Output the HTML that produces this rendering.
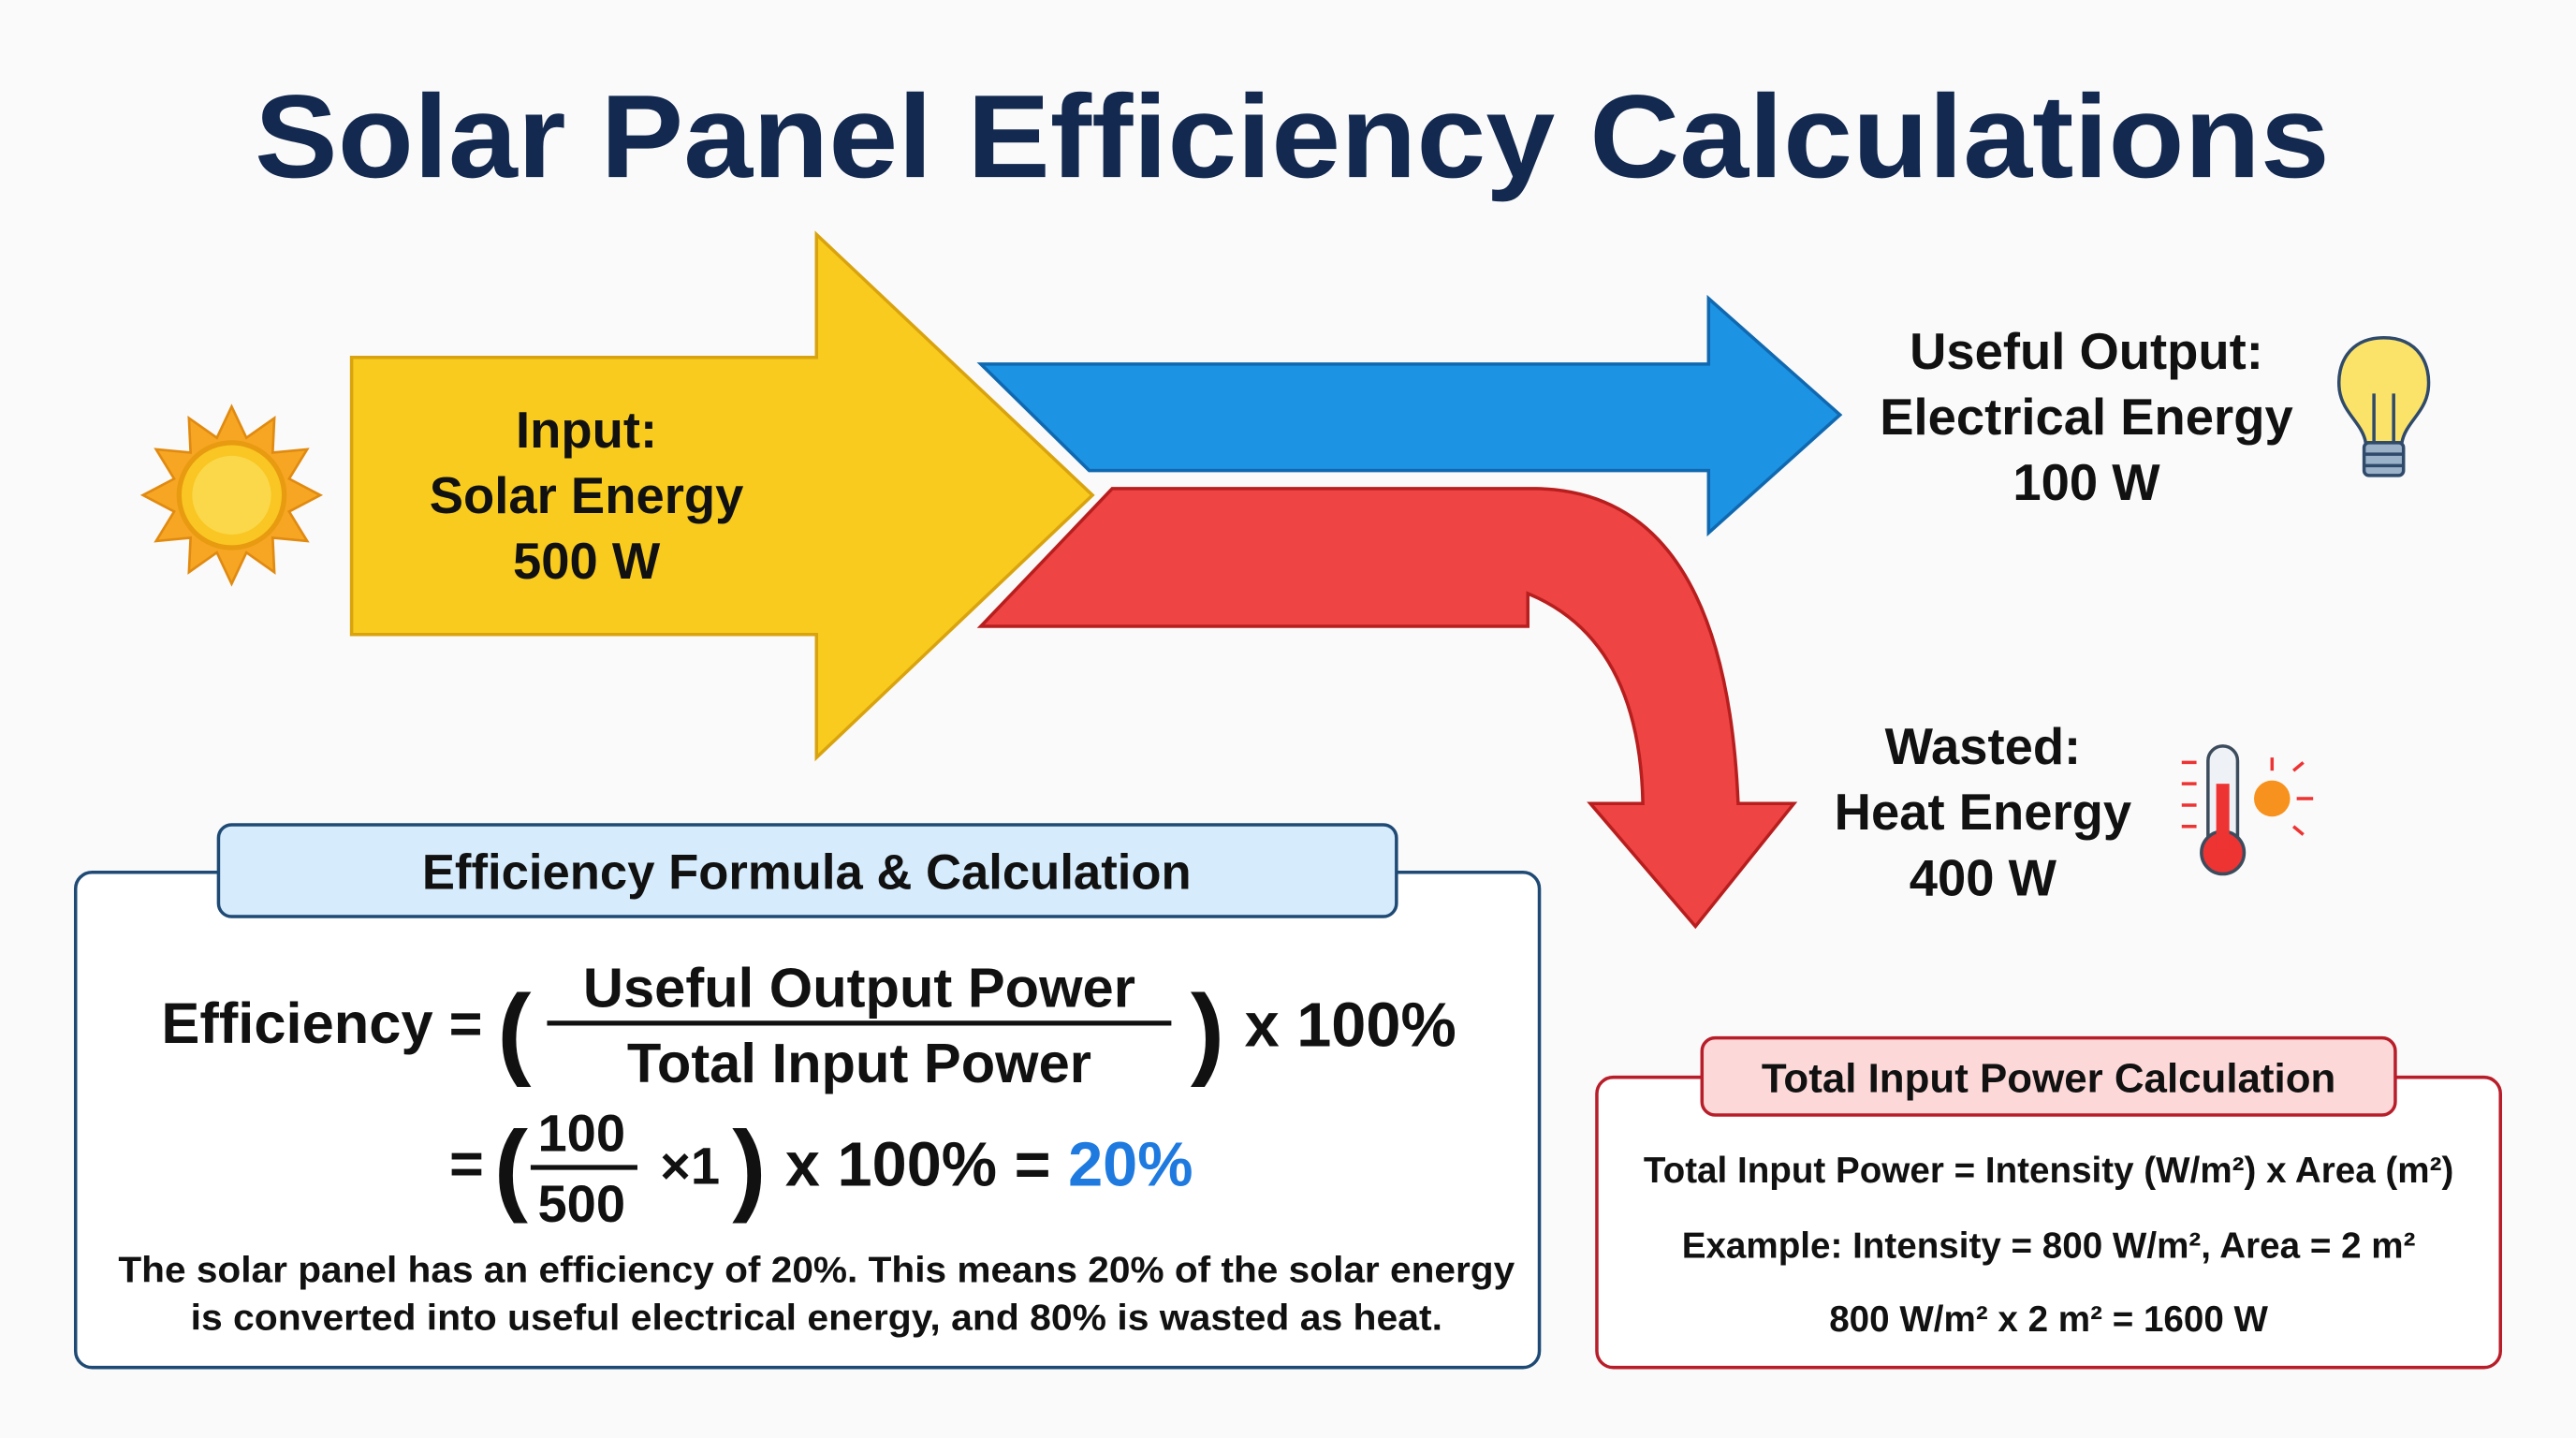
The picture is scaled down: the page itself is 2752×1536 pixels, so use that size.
<!DOCTYPE html>
<html><head><meta charset="utf-8"><style>
html,body{margin:0;padding:0;background:#fafafa;}
svg{display:block;}
text{font-family:"Liberation Sans",sans-serif;font-weight:bold;}
</style></head><body>
<svg width="2752" height="1536" viewBox="0 0 1568 877" preserveAspectRatio="none" xmlns="http://www.w3.org/2000/svg">
<rect width="1568" height="877" fill="#fafafa"/>
<text x="155" y="108" font-size="72" fill="#13294f" textLength="1263" lengthAdjust="spacingAndGlyphs">Solar Panel Efficiency Calculations</text>
<!-- sun -->
<g transform="translate(141,302)">
<polygon fill="#f6a623" stroke="#e08a10" stroke-width="1.5" points="0,-54 9,-35 26,-47 25,-26 46,-28 35,-10 54,0 35,10 46,28 25,26 26,47 9,35 0,54 -9,35 -26,47 -25,26 -46,28 -35,10 -54,0 -35,-10 -46,-28 -25,-26 -26,-47 -9,-35"/>
<circle r="32" fill="#f9c623" stroke="#e89a10" stroke-width="3"/>
<circle r="24" fill="#fbd84a"/>
</g>
<!-- yellow arrow -->
<polygon points="214,218 497,218 497,143 665,302 497,462 497,387 214,387" fill="#f8cb1e" stroke="#d9a30e" stroke-width="2"/>
<text x="357" y="273" text-anchor="middle" font-size="31" fill="#111">Input:</text>
<text x="357" y="313" text-anchor="middle" font-size="31" fill="#111">Solar Energy</text>
<text x="357" y="353" text-anchor="middle" font-size="31" fill="#111">500 W</text>
<!-- blue arrow -->
<polygon points="597,222 1040,222 1040,182 1120,253 1040,325 1040,287 663,287" fill="#1c93e3" stroke="#1069b0" stroke-width="2"/>
<!-- red arrow -->
<path d="M677,298 L935,298 Q1050,300 1058,490 L1092,490 L1032,565 L968,490 L1000,490 Q998,390 930,362 L930,382 L597,382 Z" fill="#ee4444" stroke="#b81e1e" stroke-width="2"/>
<text x="1270" y="225" text-anchor="middle" font-size="31" fill="#111">Useful Output:</text>
<text x="1270" y="265" text-anchor="middle" font-size="31" fill="#111">Electrical Energy</text>
<text x="1270" y="305" text-anchor="middle" font-size="31" fill="#111">100 W</text>
<!-- bulb -->
<g>
<path d="M1451,206 C1430,206 1422,222 1424,238 C1426,252 1438,258 1440,270 L1462,270 C1464,258 1476,252 1478,238 C1480,222 1472,206 1451,206 Z" fill="#fbe36a" stroke="#2f4a6a" stroke-width="2"/>
<rect x="1439" y="270" width="24" height="20" fill="#9bb2c8" stroke="#2f4a6a" stroke-width="2" rx="3"/>
<path d="M1445,270 L1445,240 M1457,270 L1457,240 M1439,277 L1463,277 M1439,284 L1463,284" stroke="#2f4a6a" stroke-width="2" fill="none"/>
</g>
<text x="1207" y="466" text-anchor="middle" font-size="31" fill="#111">Wasted:</text>
<text x="1207" y="506" text-anchor="middle" font-size="31" fill="#111">Heat Energy</text>
<text x="1207" y="546" text-anchor="middle" font-size="31" fill="#111">400 W</text>
<!-- thermometer -->
<g>
<rect x="1344" y="455" width="18" height="65" rx="9" fill="#eef2f6" stroke="#3c4c5c" stroke-width="2"/>
<circle cx="1353" cy="520" r="13" fill="#e33" stroke="#3c4c5c" stroke-width="2"/>
<rect x="1349" y="478" width="8" height="40" fill="#e33"/>
<circle cx="1383" cy="487" r="11" fill="#f7921e"/>
<g stroke="#e33" stroke-width="2"><line x1="1328" y1="465" x2="1337" y2="465"/><line x1="1328" y1="478" x2="1337" y2="478"/><line x1="1328" y1="491" x2="1337" y2="491"/><line x1="1328" y1="504" x2="1337" y2="504"/><line x1="1398" y1="487" x2="1408" y2="487"/><line x1="1383" y1="462" x2="1383" y2="470"/><line x1="1396" y1="470" x2="1402" y2="465"/><line x1="1396" y1="504" x2="1402" y2="509"/></g>
</g>
<!-- formula box -->
<rect x="46" y="532" width="891" height="302" rx="10" fill="#fff" stroke="#1f4a75" stroke-width="2"/>
<rect x="133" y="503" width="717" height="56" rx="8" fill="#d6ebfb" stroke="#1f4a75" stroke-width="2"/>
<text x="491" y="542" text-anchor="middle" font-size="30" fill="#111">Efficiency Formula &amp; Calculation</text>
<text x="196" y="636" text-anchor="middle" font-size="35" fill="#111">Efficiency =</text>
<text x="313" y="650" text-anchor="middle" font-size="62" font-weight="normal" fill="#111">(</text>
<text x="523" y="614" text-anchor="middle" font-size="34" fill="#111">Useful Output Power</text>
<line x1="333" y1="624" x2="713" y2="624" stroke="#111" stroke-width="3"/>
<text x="523" y="660" text-anchor="middle" font-size="34" fill="#111">Total Input Power</text>
<text x="735" y="650" text-anchor="middle" font-size="62" font-weight="normal" fill="#111">)</text>
<text x="822" y="638" text-anchor="middle" font-size="38" fill="#111">x 100%</text>
<text x="284" y="722" text-anchor="middle" font-size="36" fill="#111">=</text>
<text x="311" y="733" text-anchor="middle" font-size="62" font-weight="normal" fill="#111">(</text>
<text x="354" y="702" text-anchor="middle" font-size="32" fill="#111">100</text>
<line x1="323" y1="712" x2="388" y2="712" stroke="#111" stroke-width="3"/>
<text x="354" y="745" text-anchor="middle" font-size="32" fill="#111">500</text>
<text x="420" y="722" text-anchor="middle" font-size="32" fill="#111">×1</text>
<text x="456" y="733" text-anchor="middle" font-size="62" font-weight="normal" fill="#111">)</text>
<text x="478" y="723" font-size="38" fill="#111">x 100% = <tspan fill="#1f7ae0">20%</tspan></text>
<text x="497" y="782" text-anchor="middle" font-size="22" fill="#111" textLength="850" lengthAdjust="spacingAndGlyphs">The solar panel has an efficiency of 20%. This means 20% of the solar energy</text>
<text x="497" y="811" text-anchor="middle" font-size="22" fill="#111" textLength="762" lengthAdjust="spacingAndGlyphs">is converted into useful electrical energy, and 80% is wasted as heat.</text>
<!-- total input box -->
<rect x="972" y="657" width="550" height="177" rx="10" fill="#fff" stroke="#b81e2a" stroke-width="2"/>
<rect x="1036" y="633" width="422" height="47" rx="8" fill="#fcd8d8" stroke="#b81e2a" stroke-width="2"/>
<text x="1247" y="666" text-anchor="middle" font-size="25" fill="#111">Total Input Power Calculation</text>
<text x="1247" y="721" text-anchor="middle" font-size="22" fill="#111">Total Input Power = Intensity (W/m²) x Area (m²)</text>
<text x="1247" y="767" text-anchor="middle" font-size="22" fill="#111">Example: Intensity = 800 W/m², Area = 2 m²</text>
<text x="1247" y="812" text-anchor="middle" font-size="22" fill="#111">800 W/m² x 2 m² = 1600 W</text>
</svg>
</body></html>
